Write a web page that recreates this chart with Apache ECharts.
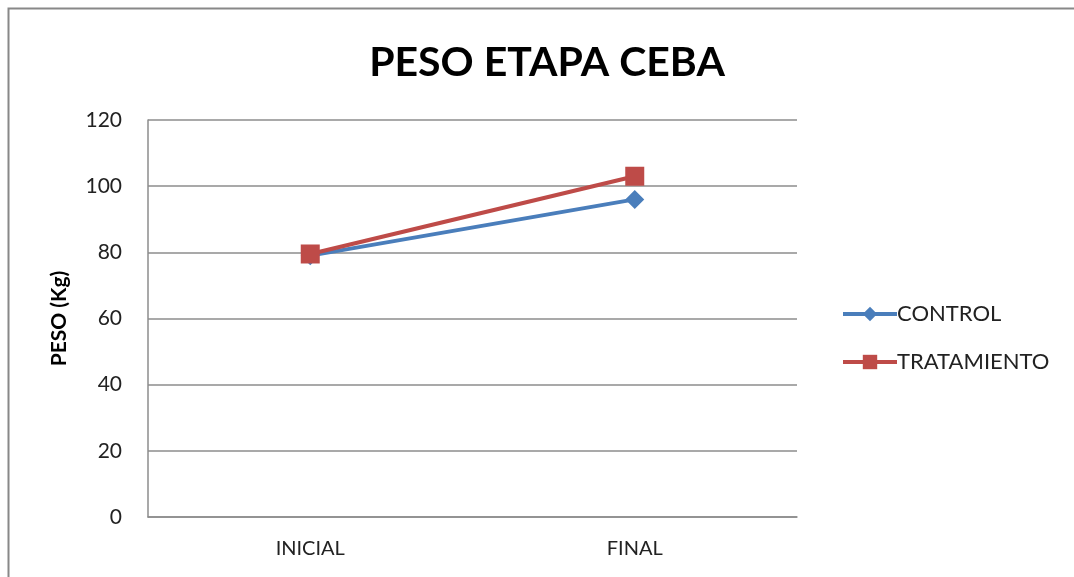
<!DOCTYPE html>
<html>
<head>
<meta charset="utf-8">
<script src="https://cdn.jsdelivr.net/npm/echarts@6/dist/echarts.min.js"></script>
<style>
html, body { margin: 0; padding: 0; background: #fff; }
#main { width: 1074px; height: 577px; }
</style>
</head>
<body>
<div id="main"></div>
<script>
var categories = ['INICIAL', 'FINAL'];
var controlData = [79, 96];
var tratamientoData = [79.5, 103];
var yTicks = { min: 0, max: 120, interval: 20 };

var chart = echarts.init(document.getElementById('main'));

var fontFam = 'Lato, "Open Sans", sans-serif';

var option = {
    backgroundColor: '#fff',
    textStyle: { fontFamily: fontFam },
    title: {
        text: 'PESO ETAPA CEBA',
        left: 542,
        textAlign: 'center',
        top: 37,
        textStyle: { fontSize: 41, fontWeight: 'bold', color: '#000', fontFamily: fontFam }
    },
    graphic: [{
        type: 'rect',
        shape: { x: 8.5, y: 8.5, width: 1100, height: 600 },
        style: { fill: 'none', stroke: '#888', lineWidth: 2 },
        silent: true
    }],
    legend: {
        orient: 'vertical',
        left: 836,
        top: 298,
        itemWidth: 54,
        itemHeight: 18,
        itemGap: 26,
        lineStyle: { width: 4 },
        textStyle: { fontSize: 22, color: '#222', fontFamily: fontFam, padding: [0, 0, 0, -5] },
        data: ['CONTROL', 'TRATAMIENTO']
    },
    grid: { left: 148, right: 277, top: 120, bottom: 60 },
    xAxis: {
        type: 'category',
        data: categories,
        boundaryGap: true,
        axisLine: { lineStyle: { color: '#8c8c8c', width: 1.5 } },
        axisTick: { show: false },
        axisLabel: { fontSize: 20, color: '#222', margin: 22 }
    },
    yAxis: {
        type: 'value',
        min: yTicks.min,
        max: yTicks.max,
        interval: yTicks.interval,
        name: 'PESO (Kg)',
        nameLocation: 'middle',
        nameGap: 78,
        nameTextStyle: { fontSize: 21, fontWeight: 'bold', color: '#000' },
        axisLine: { show: true, lineStyle: { color: '#8c8c8c', width: 1.5 } },
        axisTick: { show: false },
        axisLabel: { fontSize: 21, color: '#222', margin: 26 },
        splitLine: { lineStyle: { color: '#8c8c8c', width: 1.5 } }
    },
    series: [{
        name: 'CONTROL',
        type: 'line',
        data: controlData,
        symbol: 'diamond',
        symbolSize: 19,
        lineStyle: { width: 4, color: '#4A7EBB' },
        itemStyle: { color: '#4A7EBB' }
    }, {
        name: 'TRATAMIENTO',
        type: 'line',
        data: tratamientoData,
        symbol: 'rect',
        symbolSize: 19,
        lineStyle: { width: 4, color: '#BE4B48' },
        itemStyle: { color: '#BE4B48' }
    }]
};

chart.setOption(option);
</script>
</body>
</html>
